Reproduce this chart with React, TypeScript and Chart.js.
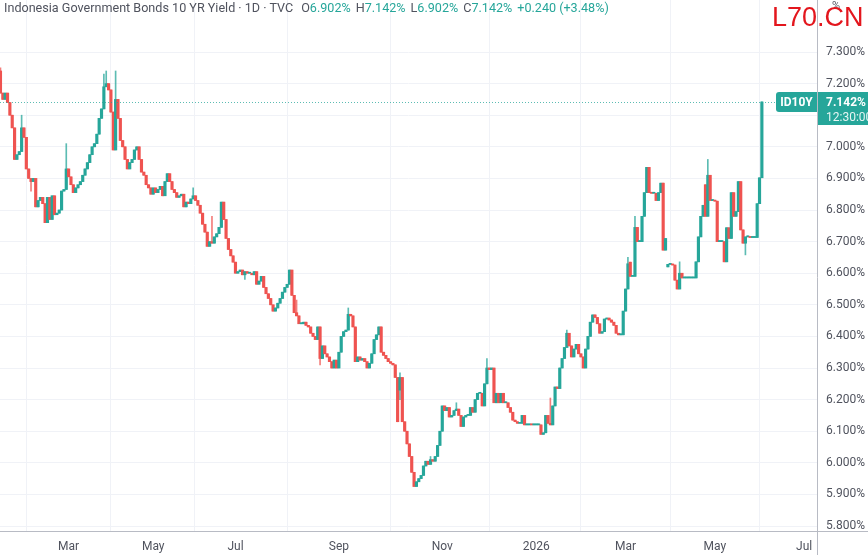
import React, { useEffect, useRef } from 'react';
import { Chart, registerables } from 'chart.js';

Chart.register(...registerables);

// ---- data (daily candles, ID10Y yield in %) ----
const firstOpen = 7.24;
const closes: number[] = [
  7.17, 7.15, 7.17, 7.14, 7.10, 7.06, 6.96, 6.975, 6.985, 7.06,
  7.03, 6.93, 6.90, 6.89, 6.90, 6.81, 6.83, 6.84, 6.82, 6.76,
  6.84, 6.77, 6.845, 6.785, 6.79, 6.80, 6.86, 6.865, 6.93, 6.905,
  6.88, 6.855, 6.87, 6.88, 6.89, 6.91, 6.93, 6.95, 6.975, 7.00,
  7.01, 7.04, 7.09, 7.12, 7.19, 7.20, 7.18, 7.11, 6.99, 7.15,
  7.09, 7.02, 7.00, 6.96, 6.93, 6.95, 6.96, 6.99, 7.00, 6.96,
  6.92, 6.91, 6.88, 6.87, 6.85, 6.87, 6.855, 6.865, 6.875, 6.845,
  6.89, 6.915, 6.89, 6.865, 6.855, 6.84, 6.845, 6.85, 6.81, 6.825,
  6.82, 6.835, 6.845, 6.83, 6.815, 6.79, 6.755, 6.73, 6.685, 6.70,
  6.695, 6.715, 6.725, 6.745, 6.825, 6.77, 6.71, 6.675, 6.655, 6.635,
  6.60, 6.605, 6.61, 6.595, 6.605, 6.60, 6.60, 6.595, 6.605, 6.565,
  6.575, 6.59, 6.555, 6.535, 6.52, 6.50, 6.48, 6.49, 6.505, 6.52,
  6.54, 6.555, 6.565, 6.61, 6.53, 6.475, 6.465, 6.44, 6.44, 6.445,
  6.435, 6.43, 6.41, 6.40, 6.39, 6.43, 6.33, 6.37, 6.345, 6.335,
  6.32, 6.30, 6.325, 6.30, 6.35, 6.40, 6.415, 6.42, 6.47, 6.465,
  6.43, 6.32, 6.335, 6.325, 6.33, 6.32, 6.30, 6.315, 6.345, 6.39,
  6.405, 6.43, 6.35, 6.34, 6.33, 6.32, 6.315, 6.31, 6.27, 6.13,
  6.27, 6.13, 6.10, 6.06, 6.02, 5.97, 5.925, 5.94, 5.95, 5.96,
  5.99, 6.005, 5.995, 6.01, 6.005, 6.02, 6.055, 6.10, 6.18, 6.165,
  6.175, 6.145, 6.15, 6.165, 6.17, 6.15, 6.115, 6.145, 6.15, 6.15,
  6.175, 6.16, 6.20, 6.22, 6.22, 6.18, 6.25, 6.30, 6.295, 6.30,
  6.19, 6.22, 6.19, 6.22, 6.19, 6.19, 6.175, 6.16, 6.135, 6.13,
  6.125, 6.125, 6.15, 6.12, 6.12, 6.121, 6.12, 6.12, 6.12, 6.12,
  6.09, 6.095, 6.15, 6.125, 6.12, 6.18, 6.24, 6.235, 6.30, 6.33,
  6.365, 6.41, 6.37, 6.335, 6.36, 6.375, 6.345, 6.335, 6.30, 6.36,
  6.40, 6.445, 6.468, 6.46, 6.44, 6.41, 6.415, 6.455, 6.458, 6.452,
  6.445, 6.435, 6.41, 6.405, 6.405, 6.48, 6.55, 6.63, 6.59, 6.59,
  6.745, 6.70, 6.70, 6.78, 6.855, 6.935, 6.855, 6.853, 6.853, 6.83,
  6.855, 6.885, 6.673, 6.71, 6.628, 6.628, 6.626, 6.578, 6.55, 6.60,
  6.585, 6.585, 6.585, 6.585, 6.585, 6.585, 6.636, 6.715, 6.78, 6.815,
  6.78, 6.91, 6.83, 6.83, 6.828, 6.70, 6.70, 6.70, 6.636, 6.744,
  6.71, 6.855, 6.78, 6.795, 6.89, 6.737, 6.695, 6.715, 6.715, 6.713,
  6.713, 6.713, 6.82, 6.902, 7.142,
];
// candles whose open differs from the previous close: [index, open]
const gapOpens: [number, number][] = [[170, 6.23], [268, 6.635], [284, 6.62], [300, 6.88]];
// visible upper / lower shadows: [index, value]
const wickHighs: [number, number][] = [
  [0, 7.25], [9, 7.10], [28, 7.01], [44, 7.23], [45, 7.24], [49, 7.24], [82, 6.87], [90, 6.78],
  [126, 6.515], [148, 6.49], [170, 6.285], [183, 6.02], [194, 6.19], [207, 6.33], [234, 6.205],
  [241, 6.42], [267, 6.65], [270, 6.78], [289, 6.636], [301, 6.96],
];
const wickLows: [number, number][] = [[13, 6.86], [104, 6.58], [136, 6.31], [170, 6.20], [317, 6.658]];

const monthTickIndex = [29, 65, 100, 144, 188, 228, 266, 304, 342];
const monthTickLabels = ['Mar', 'May', 'Jul', 'Sep', 'Nov', '2026', 'Mar', 'May', 'Jul'];
const yTickValues = [5.8, 5.9, 6.0, 6.1, 6.2, 6.3, 6.4, 6.5, 6.6, 6.7, 6.8, 6.9, 7.0, 7.1, 7.2, 7.3];

const symbolName = 'ID10Y';
const lastTime = '12:30:00';

const UP = '#26a69a';
const DOWN = '#ef5350';
const UP_WICK = 'rgba(38,166,154,0.75)';
const DOWN_WICK = 'rgba(239,83,80,0.75)';

function buildCandles() {
  const gapMap = new Map(gapOpens);
  const hiMap = new Map(wickHighs);
  const loMap = new Map(wickLows);
  return closes.map((c, i) => {
    const o = gapMap.has(i) ? (gapMap.get(i) as number) : i === 0 ? firstOpen : closes[i - 1];
    const h = Math.max(o, c, hiMap.get(i) ?? -Infinity);
    const l = Math.min(o, c, loMap.get(i) ?? Infinity);
    return { i, o, h, l, c };
  });
}

const overlayPlugin = {
  id: 'tvOverlay',
  afterDraw(chart: any) {
    const { ctx, chartArea, scales } = chart;
    const y = scales.y;
    const last = closes[closes.length - 1];
    const py = Math.round(y.getPixelForValue(last)) + 0.5;
    ctx.save();
    // axis border lines
    ctx.strokeStyle = '#b8bbc4';
    ctx.lineWidth = 1;
    ctx.beginPath();
    ctx.moveTo(0, Math.round(chartArea.bottom) + 0.5);
    ctx.lineTo(chart.width, Math.round(chartArea.bottom) + 0.5);
    ctx.moveTo(Math.round(chartArea.right) + 0.5, 0);
    ctx.lineTo(Math.round(chartArea.right) + 0.5, chart.height);
    ctx.stroke();
    // dotted last price line
    const boxW = 41;
    ctx.strokeStyle = 'rgba(38,166,154,0.75)';
    ctx.setLineDash([1, 2]);
    ctx.beginPath();
    ctx.moveTo(chartArea.left, py);
    ctx.lineTo(chartArea.right - boxW, py);
    ctx.stroke();
    ctx.setLineDash([]);
    // symbol box
    ctx.fillStyle = UP;
    const bx = chartArea.right - boxW;
    const by = py - 10.5;
    ctx.beginPath();
    ctx.moveTo(bx + 3, by);
    ctx.lineTo(chartArea.right, by);
    ctx.lineTo(chartArea.right, by + 20);
    ctx.lineTo(bx + 3, by + 20);
    ctx.arcTo(bx, by + 20, bx, by + 17, 3);
    ctx.lineTo(bx, by + 3);
    ctx.arcTo(bx, by, bx + 3, by, 3);
    ctx.fill();
    // price box
    ctx.fillRect(chartArea.right + 1, by, chart.width - chartArea.right, 33);
    ctx.fillStyle = '#ffffff';
    ctx.textBaseline = 'middle';
    ctx.textAlign = 'center';
    ctx.font = 'bold 12px Roboto';
    ctx.fillText(symbolName, bx + boxW / 2, py);
    ctx.textAlign = 'left';
    ctx.fillText(last.toFixed(3) + '%', chartArea.right + 9, py);
    ctx.font = '12px Roboto';
    ctx.fillStyle = '#e6f5f3';
    ctx.fillText(lastTime, chartArea.right + 9, py + 15);
    ctx.restore();
  },
};

export default function App() {
  const ref = useRef<HTMLCanvasElement>(null);

  useEffect(() => {
    const prev = document.body.style.margin;
    document.body.style.margin = '0';
    const candles = buildCandles();
    const chart = new Chart(ref.current as HTMLCanvasElement, {
      type: 'bar',
      data: {
        datasets: [
          {
            label: 'wick',
            data: candles.map((k) => ({ x: k.i, y: [k.l, k.h] })) as any,
            backgroundColor: candles.map((k) => (k.c >= k.o ? UP_WICK : DOWN_WICK)),
            barThickness: 1,
            grouped: false,
            minBarLength: 1,
            order: 2,
          } as any,
          {
            label: 'body',
            data: candles.map((k) => ({ x: k.i, y: [k.o, k.c] })) as any,
            backgroundColor: candles.map((k) => (k.c >= k.o ? UP : DOWN)),
            barThickness: 2.5,
            grouped: false,
            minBarLength: 1,
            order: 1,
          } as any,
        ],
      },
      options: {
        responsive: false,
        animation: false,
        layout: { padding: 0, autoPadding: false },
        plugins: { legend: { display: false }, tooltip: { enabled: false } },
        scales: {
          x: {
            type: 'linear',
            offset: false,
            min: -0.2,
            max: 347.46,
            grid: { color: '#f0f2f7', drawTicks: false },
            border: { display: false },
            afterBuildTicks: (s: any) => {
              s.ticks = monthTickIndex.map((v) => ({ value: v }));
            },
            afterFit: (s: any) => {
              s.height = 24;
              s.paddingLeft = 0;
              s.paddingRight = 0;
              s.paddingTop = 0;
              s.paddingBottom = 0;
            },
            ticks: {
              autoSkip: false,
              maxRotation: 0,
              padding: 9,
              color: '#50535e',
              font: { family: 'Roboto', size: 12 },
              callback: (_v: any, idx: number) => monthTickLabels[idx],
            },
          },
          y: {
            position: 'right',
            min: 5.7842,
            max: 7.4646,
            grid: { color: '#f0f2f7', drawTicks: false },
            border: { display: false },
            afterBuildTicks: (s: any) => {
              s.ticks = yTickValues.map((v) => ({ value: v }));
            },
            afterFit: (s: any) => {
              s.width = 51;
              s.paddingLeft = 0;
              s.paddingRight = 0;
              s.paddingTop = 0;
              s.paddingBottom = 0;
            },
            ticks: {
              padding: 9,
              color: '#50535e',
              font: { family: 'Roboto', size: 12 },
              callback: (v: any) => Number(v).toFixed(3) + '%',
            },
          },
        },
      },
      plugins: [overlayPlugin],
    } as any);
    return () => {
      chart.destroy();
      document.body.style.margin = prev;
    };
  }, []);

  const teal = { color: UP };
  const gray = { color: '#50535e' };
  return (
    <div style={{ position: 'relative', width: 868, height: 555, overflow: 'hidden', background: '#ffffff' }}>
      <canvas ref={ref} width={868} height={555} style={{ display: 'block' }} />
      <div
        style={{
          position: 'absolute',
          left: 4,
          top: 0,
          font: '12.6px Roboto',
          lineHeight: '16px',
          whiteSpace: 'nowrap',
          ...gray,
        }}
      >
        <span>Indonesia Government Bonds 10 YR Yield · 1D · TVC</span>
        <span style={{ marginLeft: 8 }}>O</span>
        <span style={teal}>6.902%</span>
        <span style={{ marginLeft: 5 }}>H</span>
        <span style={teal}>7.142%</span>
        <span style={{ marginLeft: 5 }}>L</span>
        <span style={teal}>6.902%</span>
        <span style={{ marginLeft: 5 }}>C</span>
        <span style={teal}>7.142%</span>
        <span style={{ marginLeft: 5, ...teal }}>+0.240 (+3.48%)</span>
      </div>
      <div style={{ position: 'absolute', left: 832, top: -1, font: '11px Roboto', color: '#50535e' }}>%</div>
      <div
        style={{
          position: 'absolute',
          left: 772,
          top: 2,
          font: '27px "Liberation Sans", Arial, sans-serif',
          color: '#e3161d',
          lineHeight: '30px',
          whiteSpace: 'nowrap',
        }}
      >
        L70.CN
      </div>
    </div>
  );
}
